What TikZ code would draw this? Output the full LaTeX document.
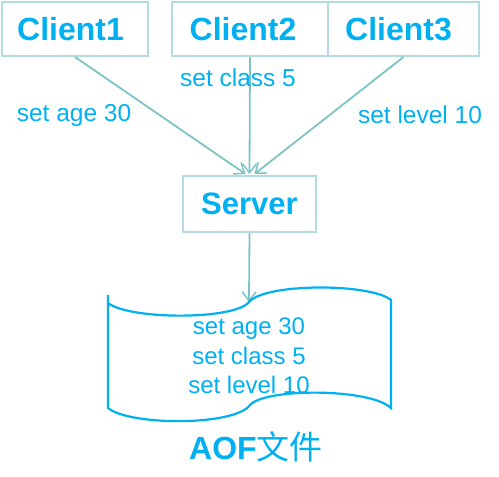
\documentclass[tikz,border=0pt]{standalone}
\usepackage{fontspec}
\setmainfont{Liberation Sans}
\newfontfamily\cjk{Noto Sans CJK SC}
\usetikzlibrary{arrows.meta}
\definecolor{txtc}{HTML}{00B0F0}
\definecolor{boxc}{HTML}{B4DCE0}
\definecolor{arrc}{HTML}{7CC4C6}
\tikzset{
  box/.style={draw=boxc, line width=2pt, fill=white, inner sep=0pt, text=txtc, font=\fontsize{32}{32}\selectfont\bfseries},
  lbl/.style={text=txtc, font=\fontsize{24.5}{26}\selectfont, inner sep=0pt},
  arr/.style={draw=arrc, line width=1.8pt, -{Straight Barb[length=9pt,width=14pt,line width=1.5pt]}},
  doc/.style={draw=txtc, line width=2.2pt}
}
\begin{document}
\begin{tikzpicture}[x=1pt,y=-1pt]
\useasboundingbox (0,0) rectangle (499,477);
\node[box, minimum width=146pt, minimum height=54pt] (c1) at (75,29) {Client1\hspace*{9pt}};
\node[box, minimum width=156pt, minimum height=54pt] (c2) at (250,29) {Client2\hspace*{14pt}};
\node[box, minimum width=151pt, minimum height=54pt] (c3) at (403.5,29) {Client3\hspace*{10pt}};
\node[box, minimum width=133pt, minimum height=56pt, font=\fontsize{31}{31}\selectfont\bfseries] (srv) at (249.5,204) {Server};
\coordinate (dtop) at (249,302);
\draw[arr] (c1.south) -- ([xshift=-4pt,yshift=1pt]srv.north);
\draw[arr] (c2.south) -- ([yshift=1pt]srv.north);
\draw[arr] (c3.south) -- ([xshift=5pt,yshift=1pt]srv.north);
\draw[arr] (srv.south) -- (dtop);
\node[lbl] (l1) at (74,115) {set age 30};
\node[lbl] (l2) at (238,78) {set class 5};
\node[lbl] (l3) at (420,115) {set level 10};
\draw[doc] (108,295) -- (108,408) .. controls (130,426) and (235,426) .. (250,405)
  .. controls (265,388) and (370,388) .. (391,408) -- (391,300)
  .. controls (370,283) and (265,283) .. (249,302)
  .. controls (235,320) and (130,320) .. (108,303);
\node[lbl, align=center, font=\fontsize{24}{29.5}\selectfont] (log) at (249,356) {set age 30\\set class 5\\set level 10};
\node[text=txtc, inner sep=0pt] (aof) at (256,447) {\fontsize{32}{32}\selectfont\bfseries AOF{\cjk\mdseries\fontsize{33}{33}\selectfont 文件}};
\end{tikzpicture}
\end{document}
